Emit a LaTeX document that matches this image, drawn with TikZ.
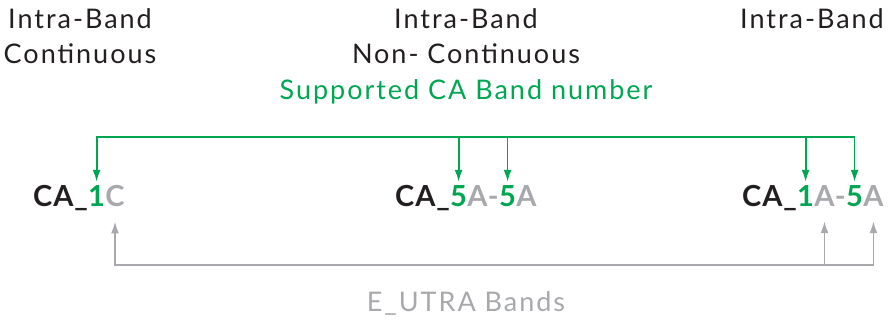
\documentclass[tikz,border=0pt]{standalone}
\usepackage{fontspec}
\setmainfont{Lato}
\newfontfamily\headfont{Lato}[LetterSpace=7.3]
\newfontfamily\bandfont{Lato}[LetterSpace=3]
\usepackage{xcolor}
\usepackage{tikz}
\usetikzlibrary{positioning}
\usetikzlibrary{arrows, arrows.meta}
\definecolor{bandgreen}{HTML}{00A651}
\definecolor{bandgray}{HTML}{A7A9AC}
\definecolor{bandblack}{HTML}{231F20}

\begin{document}
\begin{tikzpicture}[x=1pt, y=-1pt,
    txt/.style={font=\headfont\fontsize{27}{35}\selectfont, text=bandblack, inner sep=0pt, align=center},
    lbl/.style={font=\bandfont\bfseries\fontsize{29}{35}\selectfont, text=bandblack, inner sep=0pt, anchor=base west},
    num/.style={lbl, text=bandgreen},
    band/.style={lbl, text=bandgray},
    greenarrow/.style={draw=bandgreen, line width=1.8pt, -{Latex[length=12pt,width=8pt]}, shorten >=4pt},
    greenboth/.style={greenarrow, {Latex[length=12pt,width=8pt]}-{Latex[length=12pt,width=8pt]}, shorten <=4pt},
    grayarrow/.style={draw=bandgray, line width=1.8pt, -{Latex[length=12pt,width=8pt]}, shorten >=14pt},
    grayboth/.style={grayarrow, {Latex[length=12pt,width=8pt]}-{Latex[length=12pt,width=8pt]}, shorten <=14pt}]
    \useasboundingbox (0,0) rectangle (889,320);

    \def\ybase{207}
    \def\ytop{137}
    \def\ybot{265}

    % headings
    \node[txt, anchor=north] (contTxt) at (80,8) {Intra-Band\\Continuous};
    \node[txt, anchor=north] (nonTxt) at (466,8) {Intra-Band\\Non- Continuous};
    \node[txt, anchor=north] (intraTxt) at (812,8) {Intra-Band};
    \node[txt, text=bandgreen, anchor=base] (supTxt) at (466,100) {Supported CA Band number};
    \node[txt, text=bandgray, anchor=base] (utraTxt) at (466,312) {E\_UTRA Bands};

    % CA_1C
    \node[lbl] (lCA) at (33,\ybase) {CA\_};
    \node[num] (lone) at (lCA.base east) {1};
    \node[band] (lC) at (lone.base east) {C};

    % CA_5A-5A
    \node[lbl] (mCA) at (395,\ybase) {CA\_};
    \node[num] (mfive) at (mCA.base east) {5};
    \node[band] (mA) at (mfive.base east) {A};
    \node[band] (mdash) at (mA.base east) {-};
    \node[num] (mfiveb) at (mdash.base east) {5};
    \node[band] (mAb) at (mfiveb.base east) {A};

    % CA_1A-5A
    \node[lbl] (rCA) at (742,\ybase) {CA\_};
    \node[num] (rone) at (rCA.base east) {1};
    \node[band] (rA) at (rone.base east) {A};
    \node[band] (rdash) at (rA.base east) {-};
    \node[num] (rfive) at (rdash.base east) {5};
    \node[band] (rAb) at (rfive.base east) {A};

    \coordinate (gtop) at (466,\ytop);
    \coordinate (gbot) at (466,\ybot);

    \draw[greenboth] (lone.north) |- (gtop) -| (rfive.north);
    \foreach \n in {mfive, mfiveb, rone}
        \draw[greenarrow] (\n.north |- gtop) -- (\n.north);

    \draw[grayboth] (lC.south) |- (gbot) -| (rAb.south);
    \draw[grayarrow] (rA.south |- gbot) -- (rA.south);

\end{tikzpicture}
\end{document}
